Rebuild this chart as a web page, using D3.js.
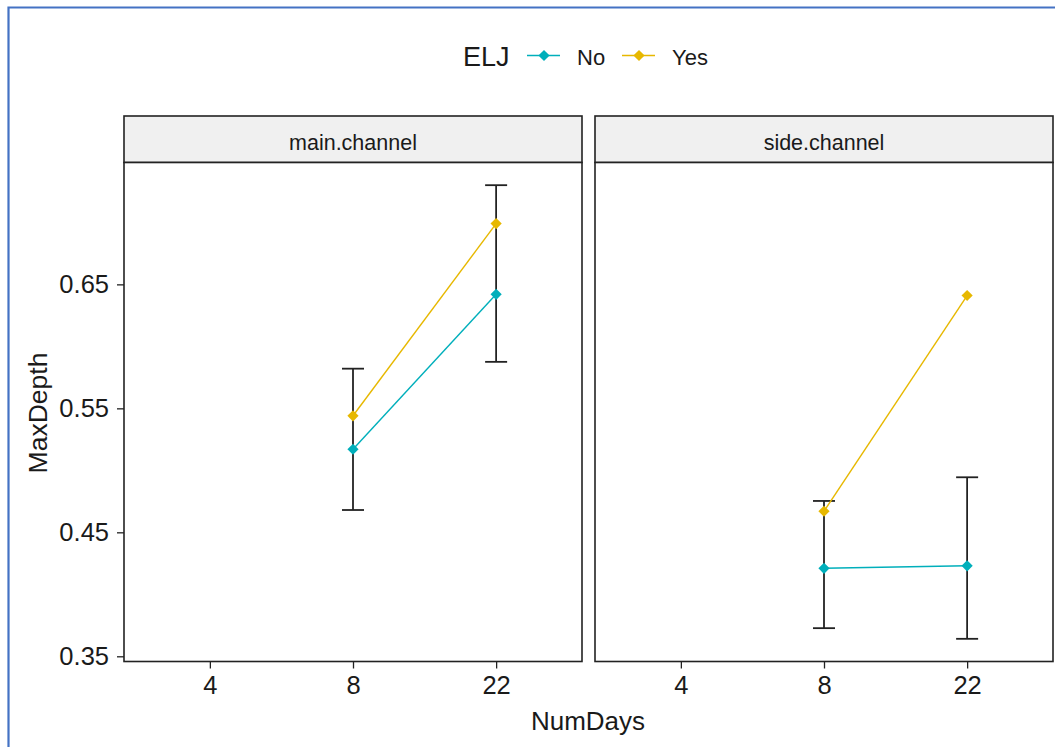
<!DOCTYPE html>
<html>
<head>
<meta charset="utf-8">
<script src="https://cdn.jsdelivr.net/npm/d3@7"></script>
<style>
  html, body { margin: 0; padding: 0; background: #fff; }
  svg { display: block; font-family: "Liberation Sans", Arial, sans-serif; }
</style>
</head>
<body>
<svg id="chart" width="1055" height="747"></svg>
<script>
// Facets, x categories and groups
const facets = ["main.channel", "side.channel"];
const numDays = ["4", "8", "22"];
const groups = ["No", "Yes"];
const groupColors = ["#00AFBB", "#E7B800"];

// Group means per facet at NumDays 8 and 22
const obsDays = ["8", "22"];
const mainNo = [0.517, 0.642];
const mainYes = [0.544, 0.699];
const sideNo = [0.421, 0.423];
const sideYes = [0.467, 0.641];

// Error bar limits per facet at NumDays 8 and 22
const mainErrLow = [0.468, 0.5875];
const mainErrHigh = [0.582, 0.730];
const sideErrLow = [0.3727, 0.3641];
const sideErrHigh = [0.4753, 0.4944];

const yTicks = [0.35, 0.45, 0.55, 0.65];

const panelData = [
  { name: facets[0], series: [mainNo, mainYes], low: mainErrLow, high: mainErrHigh },
  { name: facets[1], series: [sideNo, sideYes], low: sideErrLow, high: sideErrHigh }
];

const svg = d3.select("#chart");

// Outer frame (top and left edges)
svg.append("path")
  .attr("d", "M8.5,747 V7.5 H1055")
  .attr("fill", "none")
  .attr("stroke", "#4472C4")
  .attr("stroke-width", 2.2);

// Layout
const panelTop = 162.5, panelBottom = 661.5, stripTop = 116;
const panelX = [[124, 582], [595, 1053]];

// Shared y scale with 5% expansion of the data range
const allVals = [].concat(mainNo, mainYes, sideNo, sideYes, mainErrLow, mainErrHigh, sideErrLow, sideErrHigh);
const ymin = d3.min(allVals), ymax = d3.max(allVals);
const pad = (ymax - ymin) * 0.05;
const y = d3.scaleLinear().domain([ymin - pad, ymax + pad]).range([panelBottom, panelTop]);

const textColor = "#1a1a1a";
const diamond = d3.symbol().type(d3.symbolDiamond2).size(80);

panelData.forEach((p, i) => {
  const [x0, x1] = panelX[i];
  const x = d3.scalePoint().domain(numDays).range([x0, x1]).padding(0.6);

  const g = svg.append("g");

  // Strip
  g.append("rect")
    .attr("x", x0).attr("y", stripTop)
    .attr("width", x1 - x0).attr("height", panelTop - stripTop)
    .attr("fill", "#F0F0F0")
    .attr("stroke", "#222").attr("stroke-width", 1.6);
  g.append("text")
    .attr("x", (x0 + x1) / 2).attr("y", 149.5)
    .attr("text-anchor", "middle")
    .attr("font-size", 21.5)
    .attr("fill", textColor)
    .text(p.name);

  // Panel box
  g.append("rect")
    .attr("x", x0).attr("y", panelTop)
    .attr("width", x1 - x0).attr("height", panelBottom - panelTop)
    .attr("fill", "#fff")
    .attr("stroke", "#222").attr("stroke-width", 1.6);

  // Bottom axis
  const xAxis = g.append("g")
    .attr("transform", `translate(0,${panelBottom})`)
    .call(d3.axisBottom(x).tickSize(7).tickPadding(7));
  xAxis.select(".domain").remove();
  xAxis.selectAll(".tick line").attr("stroke", "#222").attr("stroke-width", 1.3);
  xAxis.selectAll(".tick text")
    .attr("font-size", 25.5)
    .attr("font-family", "Liberation Sans, Arial, sans-serif")
    .attr("fill", textColor);

  // Left axis only on the first panel
  if (i === 0) {
    const yAxis = g.append("g")
      .attr("transform", `translate(${x0},0)`)
      .call(d3.axisLeft(y).tickValues(yTicks).tickFormat(d3.format(".2f")).tickSize(7).tickPadding(8));
    yAxis.select(".domain").remove();
    yAxis.selectAll(".tick line").attr("stroke", "#222").attr("stroke-width", 1.3);
    yAxis.selectAll(".tick text")
      .attr("font-size", 25.5)
      .attr("font-family", "Liberation Sans, Arial, sans-serif")
      .attr("fill", textColor);
  }

  // Error bars
  const capHalf = 11;
  obsDays.forEach((d, j) => {
    const cx = x(d);
    const eg = g.append("g").attr("stroke", "#222").attr("stroke-width", 1.8).attr("fill", "none");
    eg.append("line").attr("x1", cx).attr("x2", cx).attr("y1", y(p.low[j])).attr("y2", y(p.high[j]));
    eg.append("line").attr("x1", cx - capHalf).attr("x2", cx + capHalf).attr("y1", y(p.low[j])).attr("y2", y(p.low[j]));
    eg.append("line").attr("x1", cx - capHalf).attr("x2", cx + capHalf).attr("y1", y(p.high[j])).attr("y2", y(p.high[j]));
  });

  // Lines and points per group
  const line = d3.line().x((v, j) => x(obsDays[j])).y(v => y(v));
  p.series.forEach((vals, k) => {
    g.append("path")
      .attr("d", line(vals))
      .attr("fill", "none")
      .attr("stroke", groupColors[k])
      .attr("stroke-width", 1.4);
  });
  p.series.forEach((vals, k) => {
    vals.forEach((v, j) => {
      g.append("path")
        .attr("d", diamond())
        .attr("transform", `translate(${x(obsDays[j])},${y(v)})`)
        .attr("fill", groupColors[k]);
    });
  });
});

// Axis titles
svg.append("text")
  .attr("x", 588).attr("y", 730)
  .attr("text-anchor", "middle")
  .attr("font-size", 26)
  .attr("fill", textColor)
  .text("NumDays");
svg.append("text")
  .attr("transform", "translate(46.5,413) rotate(-90)")
  .attr("text-anchor", "middle")
  .attr("font-size", 26.5)
  .attr("fill", textColor)
  .text("MaxDepth");

// Legend
const legend = svg.append("g");
legend.append("text")
  .attr("x", 463).attr("y", 66)
  .attr("font-size", 27)
  .attr("fill", textColor)
  .text("ELJ");
const keyX = [527, 622];
const labelX = [577, 672];
groups.forEach((name, k) => {
  legend.append("line")
    .attr("x1", keyX[k]).attr("x2", keyX[k] + 33)
    .attr("y1", 55.5).attr("y2", 55.5)
    .attr("stroke", groupColors[k]).attr("stroke-width", 1.6);
  legend.append("path")
    .attr("d", diamond())
    .attr("transform", `translate(${keyX[k] + 17},55.5)`)
    .attr("fill", groupColors[k]);
  legend.append("text")
    .attr("x", labelX[k]).attr("y", 65)
    .attr("font-size", 22)
    .attr("fill", textColor)
    .text(name);
});
</script>
</body>
</html>
